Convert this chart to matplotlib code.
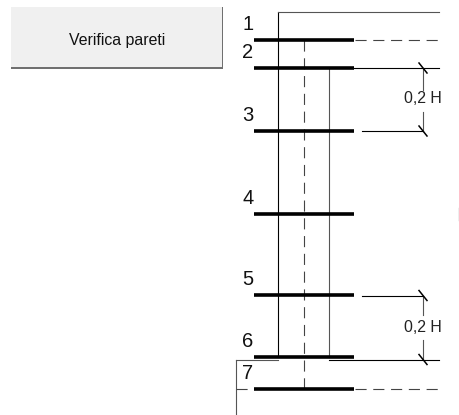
import matplotlib
matplotlib.use('Agg')
import matplotlib.pyplot as plt
from matplotlib.patches import Rectangle

plt.rcParams['font.family'] = ['Liberation Sans', 'DejaVu Sans']

# levels of the sections, in picture pixels
section_labels = ['1', '2', '3', '4', '5', '6', '7']
section_y = [40, 68, 131, 214, 295, 357, 389]
label_y = [24, 53, 115, 198, 279, 341, 373]
button_text = 'Verifica pareti'
dim_text = '0,2 H'

fig = plt.figure(figsize=(4.6, 4.15), dpi=100)
ax = fig.add_axes([0, 0, 1, 1])
ax.set_xlim(0, 460)
ax.set_ylim(415, 0)
ax.axis('off')

# button
ax.add_patch(Rectangle((11, 7), 212.5, 62, fc='#707070', ec='none'))
ax.add_patch(Rectangle((11, 7), 211, 60, fc='#f0f0f0', ec='none'))
ax.text(117, 40, button_text, fontsize=11.4, ha='center', va='center', color='#111111')

# thick section lines
for y in section_y:
    ax.plot([254, 354], [y, y], color='black', lw=2.6, solid_capstyle='butt', zorder=3)
for lab, y in zip(section_labels, label_y):
    ax.text(248, y, lab, fontsize=14.5, ha='center', va='center', color='#111111')

thin = dict(color='black', lw=0.8)
grey = dict(color='#555555', lw=0.8)
dash = dict(color='#444444', lw=0.8, dashes=(10, 6))

# wall
ax.plot([278.5, 278.5], [12, 357], **thin)
ax.plot([329.5, 329.5], [68, 357], **grey)
ax.plot([278.5, 439], [12, 12], **grey)
ax.plot([304, 304], [40, 389], **dash)
ax.plot([355, 439], [40, 40], **dash)
ax.plot([354, 439], [68, 68], **thin)

# base
ax.plot([236, 278], [359.5, 359.5], **grey)
ax.plot([329, 439], [359.5, 359.5], **thin)
ax.plot([236, 236], [359.5, 415], **grey)
ax.plot([236, 254], [389, 389], **dash)
ax.plot([355, 439], [389, 389], **dash)

# dimension lines
ax.plot([362, 423], [131, 131], **thin)
ax.plot([362, 423], [295.5, 295.5], **thin)
ax.plot([423, 423], [68, 90], **grey)
ax.plot([423, 423], [112, 131], **grey)
ax.plot([423, 423], [297, 315], **grey)
ax.plot([423, 423], [340, 359], **grey)
for y in [68, 131, 295.5, 359.5]:
    ax.plot([419, 427], [y - 5, y + 5], color='black', lw=1.1)
ax.text(423, 98, dim_text, fontsize=11.4, ha='center', va='center', color='#222222')
ax.text(423, 327, dim_text, fontsize=11.4, ha='center', va='center', color='#222222')

# little stray mark on the right
ax.plot([459, 459], [208, 220], color='#aaaaaa', lw=1)

fig.savefig('out.png', dpi=100)
